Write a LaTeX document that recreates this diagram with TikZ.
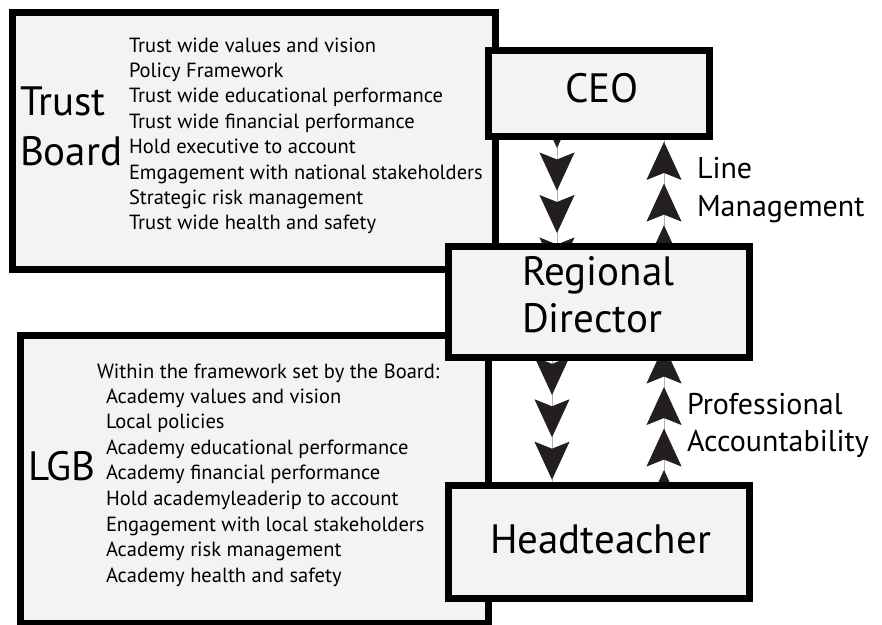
\documentclass[tikz,border=0pt]{standalone}
\usepackage{fontspec}
\setmainfont{PT Sans}
\usetikzlibrary{arrows.meta,decorations.markings,backgrounds}
\definecolor{boxfill}{HTML}{F4F2F2}
\definecolor{ink}{HTML}{231F20}
\tikzset{
  box/.style={draw=black, fill=boxfill, line width=7pt, rectangle, inner sep=0pt, outer sep=0pt},
  txt/.style={anchor=base west, inner sep=0pt, outer sep=0pt, text=black},
  bigtxt/.style={txt, font=\fontsize{41}{47}\selectfont},
  listtxt/.style={txt, font=\fontsize{20.5}{25}\selectfont},
  lbltxt/.style={txt, font=\fontsize{30}{36}\selectfont},
  flow/.style={draw=gray!60, line width=0.8pt, postaction={decorate},
    decoration={markings, mark=between positions #1 with {\arrow{Stealth[length=38pt,width=35pt,inset=7pt,color=ink]}}}},
}
\begin{document}
\begin{tikzpicture}[x=1pt,y=-1pt]
\useasboundingbox (0,0) rectangle (882,624);
\clip (0,0) rectangle (882,624);
% large boxes
\node[box, minimum width=483pt, minimum height=257pt] (trust) at (254,141) {};
\node[box, minimum width=468pt, minimum height=288pt] (lgb) at (254.5,479.5) {};
% role boxes
\node[box, minimum width=221pt, minimum height=86pt] (ceo) at (599,93.5) {};
\node[box, minimum width=301pt, minimum height=111pt] (rd) at (599,302) {};
\node[box, minimum width=301pt, minimum height=113pt] (ht) at (599,542) {};
% x positions of connectors
\coordinate (dl) at (557,0);
\coordinate (dl2) at (552,0);
\coordinate (ur) at (664,0);
\begin{scope}[on background layer]
\draw[flow={54.5pt and 200pt step 42.5pt}] (ceo.center -| dl) -- (rd.center -| dl);
\draw[flow={35pt and 200pt step 41.7pt}] (rd.center -| ur) -- (ceo.center -| ur);
\draw[flow={50.5pt and 230pt step 42.4pt}] (rd.center -| dl2) -- (ht.center -| dl2);
\draw[flow={72pt and 230pt step 41.5pt}] (ht.center -| ur) -- (rd.center -| ur);
\end{scope}
% texts
\node[bigtxt] (tTrust) at (20,115) {Trust};
\node[bigtxt] (tBoard) at (20,165) {Board};
\foreach \t [count=\i] in {Trust wide values and vision, Policy Framework, Trust wide educational performance, Trust wide financial performance, Hold executive to account, Emgagement with national stakeholders, Strategic risk management, Trust wide health and safety}
  \node[listtxt] (tb\i) at (129,{52+25.4*(\i-1)}) {\t};
\node[bigtxt] (tLGB) at (28,480) {LGB};
\node[listtxt] (lgbhead) at (97,378) {Within the framework set by the Board:};
\foreach \t [count=\i] in {Academy values and vision, Local policies, Academy educational performance, Academy financial performance, Hold academyleaderip to account, Engagement with local stakeholders, Academy risk management, Academy health and safety}
  \node[listtxt] (lg\i) at (106,{403+25.6*(\i-1)}) {\t};
\node[bigtxt] (tCEO) at (565,102) {CEO};
\node[bigtxt] (tReg) at (522,285) {Regional};
\node[bigtxt] (tDir) at (522,332) {Director};
\node[bigtxt] (tHead) at (490,553) {Headteacher};
\node[lbltxt] (tLine) at (697,178) {Line};
\node[lbltxt] (tMgmt) at (697,216) {Management};
\node[lbltxt] (tProf) at (687,414) {Professional};
\node[lbltxt] (tAcc) at (687,451) {Accountability};
\end{tikzpicture}
\end{document}
